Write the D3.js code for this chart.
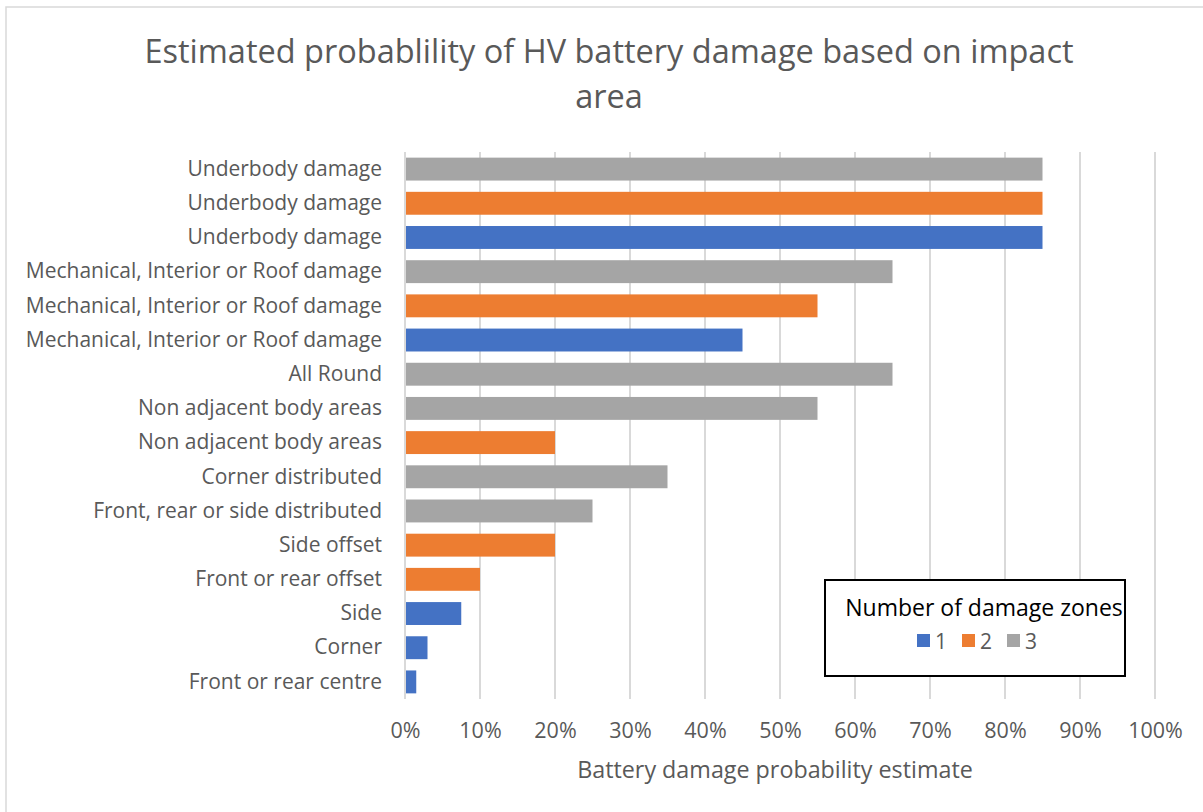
<!DOCTYPE html>
<html>
<head>
<meta charset="utf-8">
<script src="https://cdn.jsdelivr.net/npm/d3@7"></script>
<style>
  html, body { margin: 0; padding: 0; background: #fff; }
  svg { display: block; }
  text { font-family: "Open Sans", sans-serif; }
</style>
</head>
<body>
<svg id="chart" width="1203" height="812"></svg>
<script>
// Data (bottom to top order as drawn)
const categories = [
  "Front or rear centre",
  "Corner",
  "Side",
  "Front or rear offset",
  "Side offset",
  "Front, rear or side distributed",
  "Corner distributed",
  "Non adjacent body areas",
  "Non adjacent body areas",
  "All Round",
  "Mechanical, Interior or Roof damage",
  "Mechanical, Interior or Roof damage",
  "Mechanical, Interior or Roof damage",
  "Underbody damage",
  "Underbody damage",
  "Underbody damage"
];
const values = [0.015, 0.03, 0.075, 0.10, 0.20, 0.25, 0.35, 0.20, 0.55, 0.65, 0.45, 0.55, 0.65, 0.85, 0.85, 0.85];
const zones = [1, 1, 1, 2, 2, 3, 3, 2, 3, 3, 1, 2, 3, 1, 2, 3];
const zoneKeys = [1, 2, 3];
const zoneColors = ["#4472C4", "#ED7D31", "#A5A5A5"];
const xTicks = [0, 0.1, 0.2, 0.3, 0.4, 0.5, 0.6, 0.7, 0.8, 0.9, 1.0];
const titleLines = ["Estimated probablility of HV battery damage based on impact", "area"];
const xAxisTitle = "Battery damage probability estimate";
const legendTitle = "Number of damage zones";

const svg = d3.select("#chart");
const W = 1203, H = 812;
const margin = { left: 405, right: 48, top: 152, bottom: 113 };

// chart border
svg.append("rect").attr("x", 6).attr("y", 7).attr("width", W + 10).attr("height", H + 10)
  .attr("fill", "#fff").attr("stroke", "#d9d9d9").attr("stroke-width", 1.5);

const x = d3.scaleLinear().domain([0, 1]).range([margin.left, W - margin.right]);
const rows = d3.range(categories.length);
const y = d3.scaleBand().domain(rows).range([H - margin.bottom, margin.top]).paddingInner(0.33).paddingOuter(0.165);
const color = d3.scaleOrdinal().domain(zoneKeys).range(zoneColors);

// title
const title = svg.append("text").attr("x", 609).attr("text-anchor", "middle")
  .attr("fill", "#595959").style("font-size", "32.5px");
titleLines.forEach((t, i) => {
  title.append("tspan").attr("x", 609).attr("y", 63 + i * 45).text(t);
});

// gridlines
svg.append("g").selectAll("line").data(xTicks).join("line")
  .attr("x1", d => x(d)).attr("x2", d => x(d))
  .attr("y1", margin.top).attr("y2", H - margin.bottom)
  .attr("stroke", "#d9d9d9").attr("stroke-width", 2);

// bars
svg.append("g").selectAll("rect").data(rows).join("rect")
  .attr("x", x(0) + 1)
  .attr("y", i => y(i))
  .attr("width", i => x(values[i]) - x(0) - 1)
  .attr("height", y.bandwidth())
  .attr("fill", i => color(zones[i]));

// y axis labels
const yAxis = d3.axisLeft(y).tickSize(0).tickPadding(0).tickFormat(i => categories[i]);
const yg = svg.append("g").attr("transform", `translate(${margin.left - 23},0)`).call(yAxis);
yg.select(".domain").remove();
yg.selectAll("text").attr("fill", "#595959").style("font-size", "21px").style("font-family", "'Open Sans', sans-serif");

// x axis
const xAxis = d3.axisBottom(x).tickValues(xTicks).tickSize(0).tickPadding(0).tickFormat(d3.format(".0%"));
const xg = svg.append("g").attr("transform", `translate(0,${H - margin.bottom + 24})`).call(xAxis);
xg.select(".domain").remove();
xg.selectAll("text").attr("fill", "#595959").style("font-size", "21.5px").style("font-family", "'Open Sans', sans-serif");

// x axis title
svg.append("text").attr("x", x(0.5) - 5).attr("y", 778).attr("text-anchor", "middle")
  .attr("fill", "#595959").style("font-size", "23.3px").text(xAxisTitle);

// legend
const lg = svg.append("g");
lg.append("rect").attr("x", 825).attr("y", 580).attr("width", 300).attr("height", 96)
  .attr("fill", "#fff").attr("stroke", "#000").attr("stroke-width", 2);
lg.append("text").attr("x", 984).attr("y", 616).attr("text-anchor", "middle")
  .attr("fill", "#000").style("font-size", "23px").text(legendTitle);
const itemX = [917, 962, 1007];
const items = lg.selectAll("g.item").data(zoneKeys).join("g").attr("class", "item")
  .attr("transform", (d, i) => `translate(${itemX[i]},634)`);
items.append("rect").attr("width", 13).attr("height", 13).attr("fill", d => color(d));
items.append("text").attr("x", 18).attr("y", 14.5).attr("fill", "#595959")
  .style("font-size", "21px").text(d => d);
</script>
</body>
</html>
